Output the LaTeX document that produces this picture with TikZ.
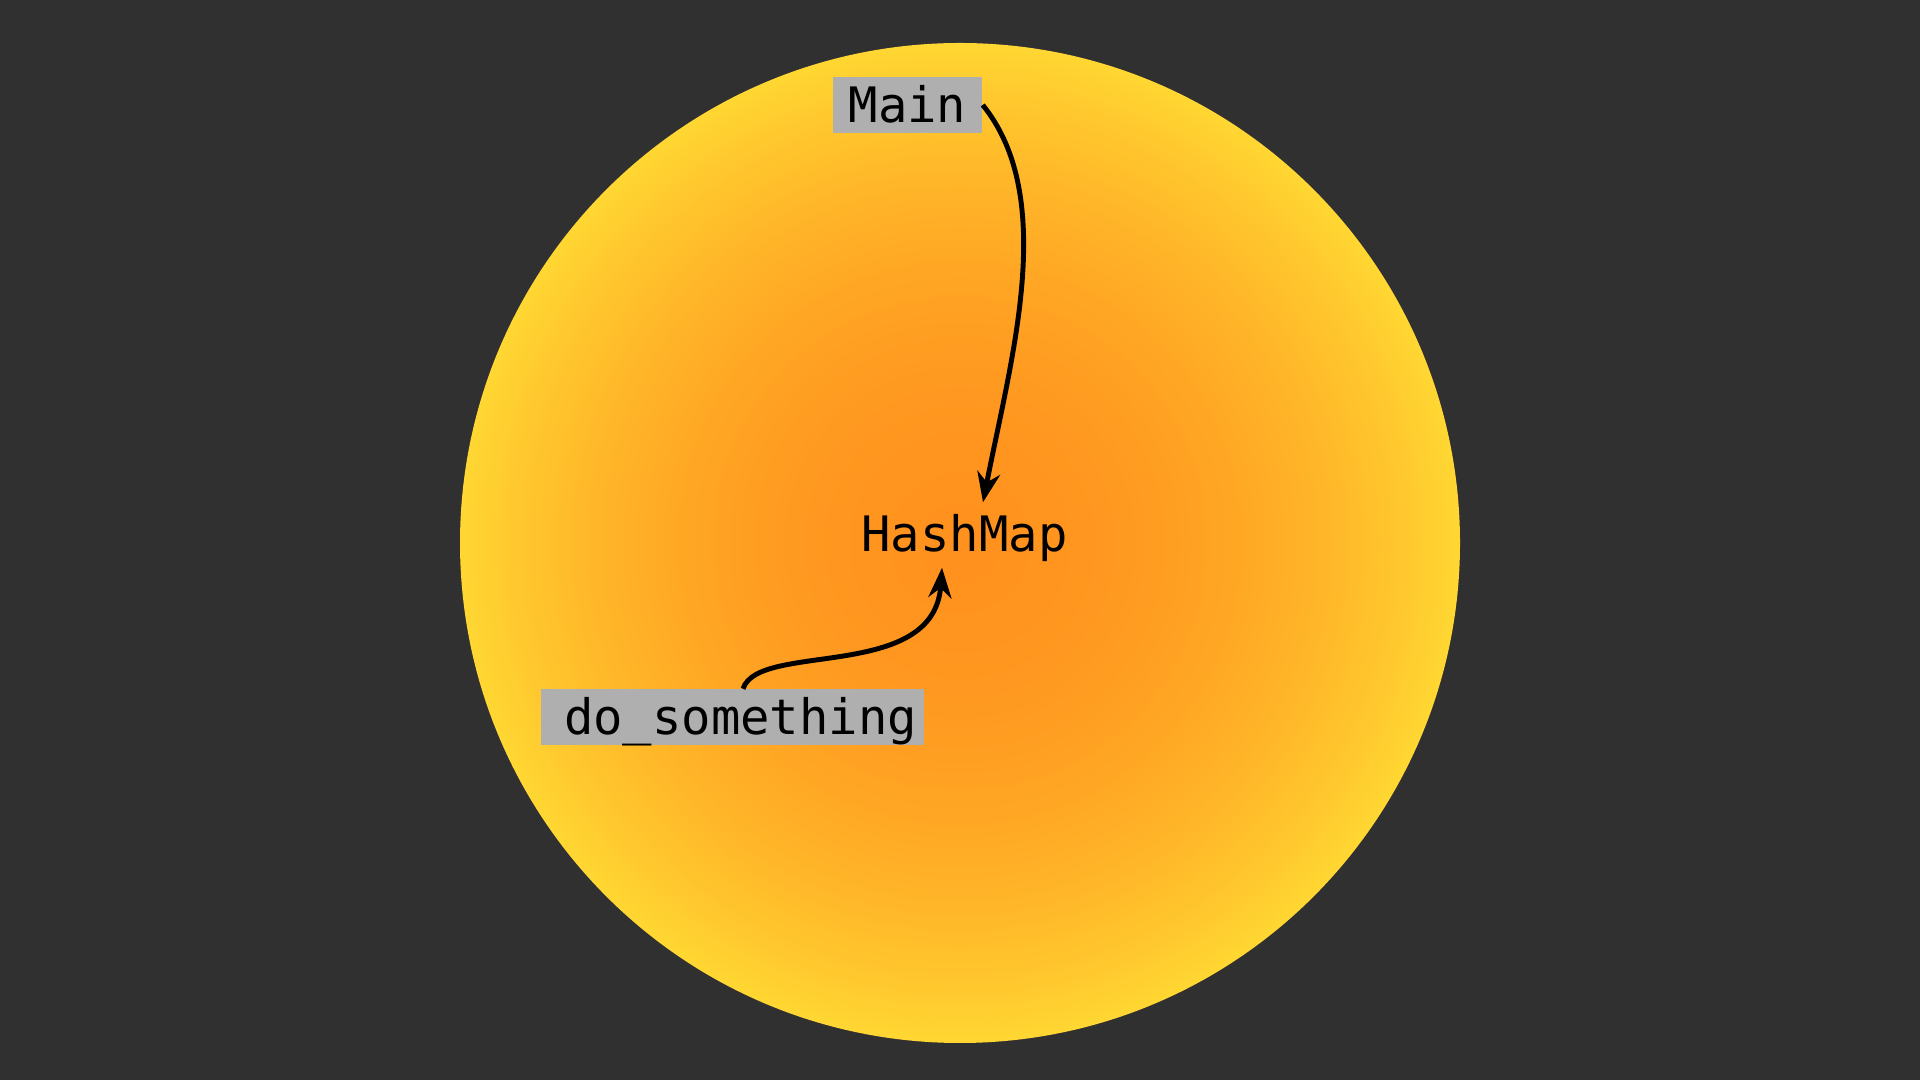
\documentclass[tikz,border=0pt]{standalone}
\usepackage{fontspec}
\setmonofont{DejaVu Sans Mono}
\usetikzlibrary{arrows.meta}
\definecolor{bgdark}{HTML}{303030}
\definecolor{suncore}{HTML}{FF921E}
\definecolor{sunrim}{HTML}{FFD632}
\definecolor{fnbg}{HTML}{AFAFAF}
\tikzset{
  codefont/.style={font=\ttfamily\fontsize{13.9}{16}\selectfont},
  fnbox/.style={codefont,fill=fnbg,inner sep=0pt},
  callarrow/.style={-{Stealth[length=0.3cm,width=0.23cm]},line width=1.4pt}
}
\begin{document}
\begin{tikzpicture}
\fill[bgdark] (0,0) rectangle (19.2,10.8);
\foreach \k in {0,...,99}
{
\pgfmathsetmacro{\rad}{5*(1-\k/100)}
\pgfmathsetmacro{\mix}{100*(1-(1-\k/100)^2)}
\fill[suncore!\mix!sunrim] (9.6,5.37) circle (\rad);
}
\node[fnbox,minimum width=1.49cm,text height=0.46cm,text depth=0.10cm] (main) at (9.075,9.75) {Main};
\node[fnbox,inner xsep=0.07cm,text width=3.69cm,align=right,text height=0.45cm,text depth=0.11cm] (dosth) at (7.325,3.625) {do\_something};
\node[codefont,inner sep=0.115cm,text height=0.375cm,text depth=0.035cm] (hashmap) at (9.645,5.45) {HashMap};
\draw[callarrow] (main.east) to[out=-51,in=79,out distance=1.2cm,in distance=1.45cm] ([xshift=0.185cm]hashmap.north);
\draw[callarrow] ([xshift=0.105cm]dosth.north) to[out=72,in=-94,out distance=0.5cm,in distance=1.15cm] ([xshift=-0.225cm]hashmap.south);
\end{tikzpicture}
\end{document}
